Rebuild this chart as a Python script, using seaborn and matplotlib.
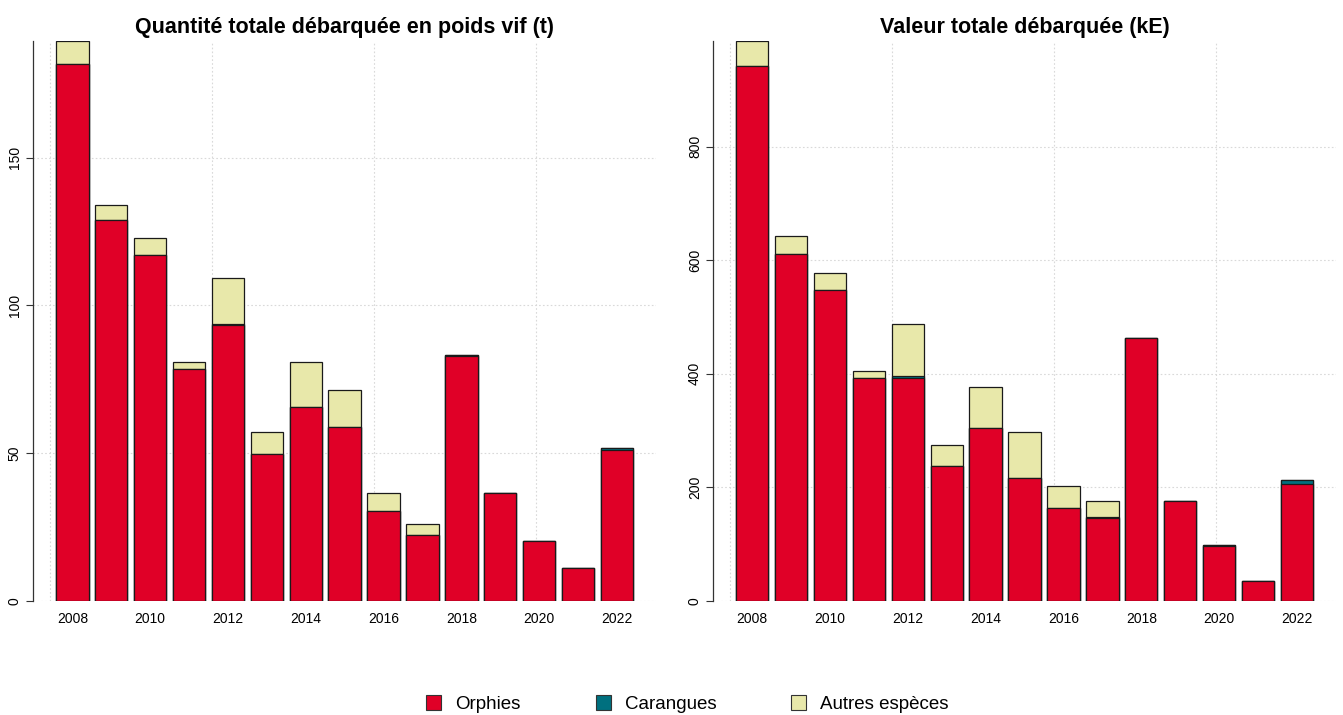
import numpy as np
import pandas as pd
import seaborn as sns
import matplotlib.pyplot as plt
from matplotlib.patches import Patch

# data
years = [str(y) for y in range(2008, 2023)]
species = ['Orphies', 'Carangues', 'Autres espèces']
colors = ['#E00027', '#00707F', '#E8E8AA']

orphies_t = [181.8, 129.0, 117.0, 78.5, 93.3, 49.9, 65.6, 58.8, 30.6, 22.5, 82.8, 36.6, 20.2, 11.2, 51.0]
carangues_t = [0, 0, 0, 0, 0.5, 0, 0, 0, 0, 0, 0.5, 0, 0, 0, 0.7]
autres_t = [7.7, 4.9, 5.8, 2.5, 15.4, 7.4, 15.3, 12.5, 6.0, 3.5, 0, 0, 0, 0, 0]

orphies_v = [942, 611, 548, 393, 393, 237, 304, 216, 163, 146.5, 463, 176, 97, 35.5, 206]
carangues_v = [0, 0, 0, 0, 3.5, 0, 0, 0, 0, 2.3, 0, 0, 2.3, 0, 6.5]
autres_v = [44, 31, 29, 12, 90.5, 38, 72, 82, 40, 26.5, 0, 0, 0, 0, 0]

titles = ['Quantité totale débarquée en poids vif (t)', 'Valeur totale débarquée (kE)']

sns.set_style('white')
plt.rcParams['font.family'] = ['Liberation Sans', 'DejaVu Sans']
plt.rcParams['text.color'] = 'black'
plt.rcParams['xtick.color'] = 'black'
plt.rcParams['ytick.color'] = 'black'

fig = plt.figure(figsize=(13.43, 7.15), dpi=100)
ax1 = fig.add_axes([0.0246, 0.1594, 0.4640, 0.7833])
ax2 = fig.add_axes([0.5309, 0.1594, 0.4640, 0.7833])


def stacked(ax, orph, car, autres, title, yticks):
    df = pd.DataFrame({'year': years, 'Orphies': orph, 'Carangues': car, 'Autres': autres})
    df['c1'] = df['Orphies']
    df['c2'] = df['c1'] + df['Carangues']
    df['c3'] = df['c2'] + df['Autres']
    # draw cumulative layers from the top down
    for col, c in zip(['c3', 'c2', 'c1'], colors[::-1]):
        sns.barplot(data=df, x='year', y=col, color=c, width=1 / 1.2,
                    edgecolor='#1a1a1a', linewidth=0.9, saturation=1, ax=ax)
    ax.set_xlim(-1.01, 15.01)
    ax.set_ylim(0, df['c3'].max())
    ax.set_xlabel('')
    ax.set_ylabel('')
    ax.set_title(title, fontsize=15.5, fontweight='bold', pad=6)
    # grid like R grid(): dotted, at pretty positions of the bar coordinates
    for r in [0, 5, 10, 15]:
        ax.axvline((r - 0.7) / 1.2, color='#d9d9d9', ls=(0, (1.5, 2)), lw=0.8, zorder=0)
    for v in yticks:
        ax.axhline(v, color='#d9d9d9', ls=(0, (1.5, 2)), lw=0.8, zorder=0)
    ax.set_xticks(range(0, 15, 2))
    ax.set_xticklabels(years[::2], fontsize=10)
    ax.set_yticks(yticks)
    ax.set_yticklabels([str(v) for v in yticks], fontsize=10, rotation=90, va='center')
    ax.tick_params(axis='x', length=0, pad=8)
    ax.tick_params(axis='y', length=5, width=0.8, color='#333333', left=True, pad=3)
    for s in ['top', 'right', 'bottom']:
        ax.spines[s].set_visible(False)
    ax.spines['left'].set_color('#333333')
    ax.spines['left'].set_linewidth(0.9)


stacked(ax1, orphies_t, carangues_t, autres_t, titles[0], [0, 50, 100, 150])
stacked(ax2, orphies_v, carangues_v, autres_v, titles[1], [0, 200, 400, 600, 800])

handles = [Patch(facecolor=c, edgecolor='#333333', linewidth=0.8) for c in colors]
fig.legend(handles, species, loc='center', bbox_to_anchor=(0.512, 0.015), ncol=3,
           frameon=False, fontsize=13.5, handlelength=0.8, handleheight=0.8,
           handletextpad=0.75, columnspacing=4.0)

fig.savefig('out.png', dpi=100)
